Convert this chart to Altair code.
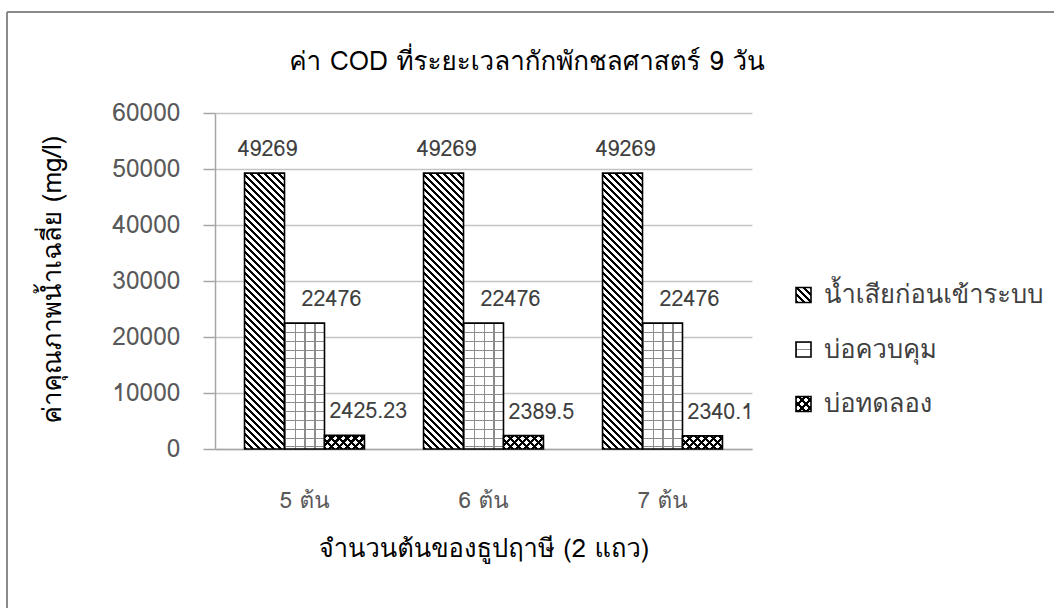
import altair as alt
import pandas as pd

# ---- data -------------------------------------------------------------
categories = ["5 ต้น", "6 ต้น", "7 ต้น"]
series = ["น้ำเสียก่อนเข้าระบบ", "บ่อควบคุม", "บ่อทดลอง"]
influent = [49269, 49269, 49269]
control = [22476, 22476, 22476]
treatment = [2425.23, 2389.5, 2340.1]
y_ticks = [0, 10000, 20000, 30000, 40000, 50000, 60000]

title_text = "ค่า COD ที่ระยะเวลากักพักชลศาสตร์ 9 วัน"
x_title = "จำนวนต้นของธูปฤาษี (2 แถว)"
y_title = "ค่าคุณภาพน้ำเฉลี่ย (mg/l)"

values_by_series = {series[0]: influent, series[1]: control, series[2]: treatment}
rows = []
for s in series:
    for c, v in zip(categories, values_by_series[s]):
        rows.append({"category": c, "series": s, "value": v, "label": f"{v:g}"})
df = pd.DataFrame(rows)
legend_df = pd.DataFrame({"series": series})
one_row = pd.DataFrame({"title": [title_text]})

# ---- layout -----------------------------------------------------------
W, H = 537, 336
LEFT, TOP = 215, 113
YMAX = 60000
PAD_INNER, PAD_OUTER = 0.33, 0.165
FONT = "Loma, Garuda, Tahoma, 'Noto Sans Thai', 'Noto Sans', 'DejaVu Sans', sans-serif"

step = W / (len(categories) - PAD_INNER + 2 * PAD_OUTER)
BAR_W = step * (1 - PAD_INNER) / len(series)


def bar_h(vals):
    return sum(vals) / len(vals) / YMAX * H


CLEAR = "rgba(255,255,255,0)"


def hatch(direction, w, h, period, ink_frac, ink, paper):
    """Striped linear gradient; stripes keep their pixel spacing inside a w x h box."""
    if direction == "down":      # "\" stripes
        a = (w + h) / (w * w + h * h)
        coords = dict(x1=0, y1=1, x2=a * w, y2=1 - a * h)
        span = w + h
    elif direction == "up":      # "/" stripes
        a = (w + h) / (w * w + h * h)
        coords = dict(x1=0, y1=0, x2=a * w, y2=a * h)
        span = w + h
    elif direction == "rows":    # horizontal lines
        coords = dict(x1=0, y1=0, x2=0, y2=1)
        span = h
    else:                        # vertical lines
        coords = dict(x1=0, y1=0, x2=1, y2=0)
        span = w
    st = period / span
    ink_len = ink_frac * st
    stops = []
    t = 0.0
    while t < 1 - 1e-9:
        a1 = min(t + ink_len, 1.0)
        a2 = min(t + st, 1.0)
        stops += [(t, ink), (a1, ink), (a1, paper), (a2, paper)]
        t += st
    return alt.LinearGradient(
        gradient="linear",
        stops=[alt.GradientStop(color=c, offset=round(o, 5)) for o, c in stops],
        **coords,
    )


def fills(idx, w, h):
    """List of (fill, stroked) layers for series idx."""
    if idx == 0:
        return [(hatch("down", w, h, 7, 0.47, "#000000", "#ffffff"), True)]
    if idx == 1:
        small = w < 20
        return [
            ("#ffffff", False),
            (hatch("rows", w, h, w / 2 if small else 8.8, 0.08 if small else 0.13,
                   "#8c8c8c", CLEAR), False),
            (hatch("cols", w, h, w / 2 if small else w / 4, 0.08 if small else 0.12,
                   "#8c8c8c", CLEAR), True),
        ]
    return [
        ("#ffffff", False),
        (hatch("down", w, h, 8, 0.4, "#000000", CLEAR), False),
        (hatch("up", w, h, 8, 0.4, "#000000", CLEAR), True),
    ]


# ---- encodings --------------------------------------------------------
x_enc = alt.X(
    "category:N",
    sort=categories,
    scale=alt.Scale(paddingInner=PAD_INNER, paddingOuter=PAD_OUTER),
    axis=alt.Axis(
        title=x_title,
        labelAngle=0,
        labelFontSize=22.5,
        labelColor="#595959",
        labelFont=FONT,
        labelPadding=40,
        ticks=False,
        domainColor="#a6a6a6",
        domainWidth=1.5,
        titleFont=FONT,
        titleFontSize=25.5,
        titleFontWeight="normal",
        titleColor="#000000",
        titleY=99,
        titleBaseline="middle",
    ),
)
xoff_enc = alt.XOffset("series:N", sort=series, scale=alt.Scale(domain=series))
y_enc = alt.Y(
    "value:Q",
    scale=alt.Scale(domain=[0, YMAX], nice=False),
    axis=alt.Axis(
        title=y_title,
        values=y_ticks,
        format="d",
        labelFontSize=24.5,
        labelColor="#595959",
        labelFont=FONT,
        labelPadding=23,
        tickSize=12,
        tickColor="#a6a6a6",
        tickWidth=1.5,
        domainColor="#a6a6a6",
        domainWidth=1.5,
        gridColor="#c4c4c4",
        gridWidth=1.5,
        titleFont=FONT,
        titleFontSize=26,
        titleFontWeight="normal",
        titleColor="#000000",
        titleAngle=-90,
        titleX=-163,
        titleY=H / 2 - 2,
        titleAlign="center",
        titleBaseline="middle",
    ),
)

layers = []

# bars: one stack of fills per series
for i, s in enumerate(series):
    h = bar_h(values_by_series[s])
    for fill, stroked in fills(i, BAR_W, h):
        mark_kw = dict(fill=fill, strokeWidth=1.6)
        if stroked:
            mark_kw["stroke"] = "#000000"
        else:
            mark_kw["strokeWidth"] = 0
        layers.append(
            alt.Chart(df)
            .transform_filter(alt.datum.series == s)
            .mark_bar(**mark_kw)
            .encode(x=x_enc, xOffset=xoff_enc, y=y_enc)
        )

# value labels
label_style = [
    dict(align="center", dx=3),
    dict(align="center", dx=27),
    dict(align="left", dx=-15),
]
for s, style in zip(series, label_style):
    layers.append(
        alt.Chart(df)
        .transform_filter(alt.datum.series == s)
        .mark_text(baseline="middle", dy=-23, fontSize=21.5, font=FONT, color="#404040", **style)
        .encode(x=x_enc, xOffset=xoff_enc, y=y_enc, text="label:N")
    )

# legend
SYM = 15
LEG_X = 796 - LEFT
LEG_Y0 = 295 - TOP
LEG_STEP = 54.5
for i, s in enumerate(series):
    cy = LEG_Y0 + i * LEG_STEP
    for fill, stroked in fills(i, SYM, SYM):
        mark_kw = dict(fill=fill, strokeWidth=1.6)
        if stroked:
            mark_kw["stroke"] = "#000000"
        else:
            mark_kw["strokeWidth"] = 0
        layers.append(
            alt.Chart(legend_df)
            .transform_filter(alt.datum.series == s)
            .mark_rect(**mark_kw)
            .encode(
                x=alt.value(LEG_X),
                x2=alt.value(LEG_X + SYM),
                y=alt.value(cy - SYM / 2),
                y2=alt.value(cy + SYM / 2),
            )
        )
    layers.append(
        alt.Chart(legend_df)
        .transform_filter(alt.datum.series == s)
        .mark_text(align="left", baseline="middle", fontSize=25.5, font=FONT, color="#404040")
        .encode(x=alt.value(LEG_X + SYM + 13), y=alt.value(cy), text="series:N")
    )

# chart title
layers.append(
    alt.Chart(one_row)
    .mark_text(align="center", baseline="middle", fontSize=26, font=FONT, color="#000000")
    .encode(x=alt.value(527 - LEFT), y=alt.value(62 - TOP), text="title:N")
)

# outer chart frame
frame_left = (
    alt.Chart(one_row)
    .mark_rule(color="#8a8a8a", strokeWidth=2)
    .encode(x=alt.value(7 - LEFT), y=alt.value(12 - TOP), y2=alt.value(620 - TOP))
)
frame_top = (
    alt.Chart(one_row)
    .mark_rule(color="#8a8a8a", strokeWidth=2)
    .encode(x=alt.value(7 - LEFT), x2=alt.value(1060 - LEFT), y=alt.value(12 - TOP))
)
layers += [frame_left, frame_top]

chart = (
    alt.layer(*layers)
    .properties(
        width=W,
        height=H,
        autosize=alt.AutoSizeParams(type="none"),
        padding={"left": LEFT, "top": TOP, "right": 1054 - LEFT - W, "bottom": 608 - TOP - H},
        background="#ffffff",
    )
    .configure_view(stroke=None)
)

chart.save("out.html", embed_options={"renderer": "svg", "actions": False})
